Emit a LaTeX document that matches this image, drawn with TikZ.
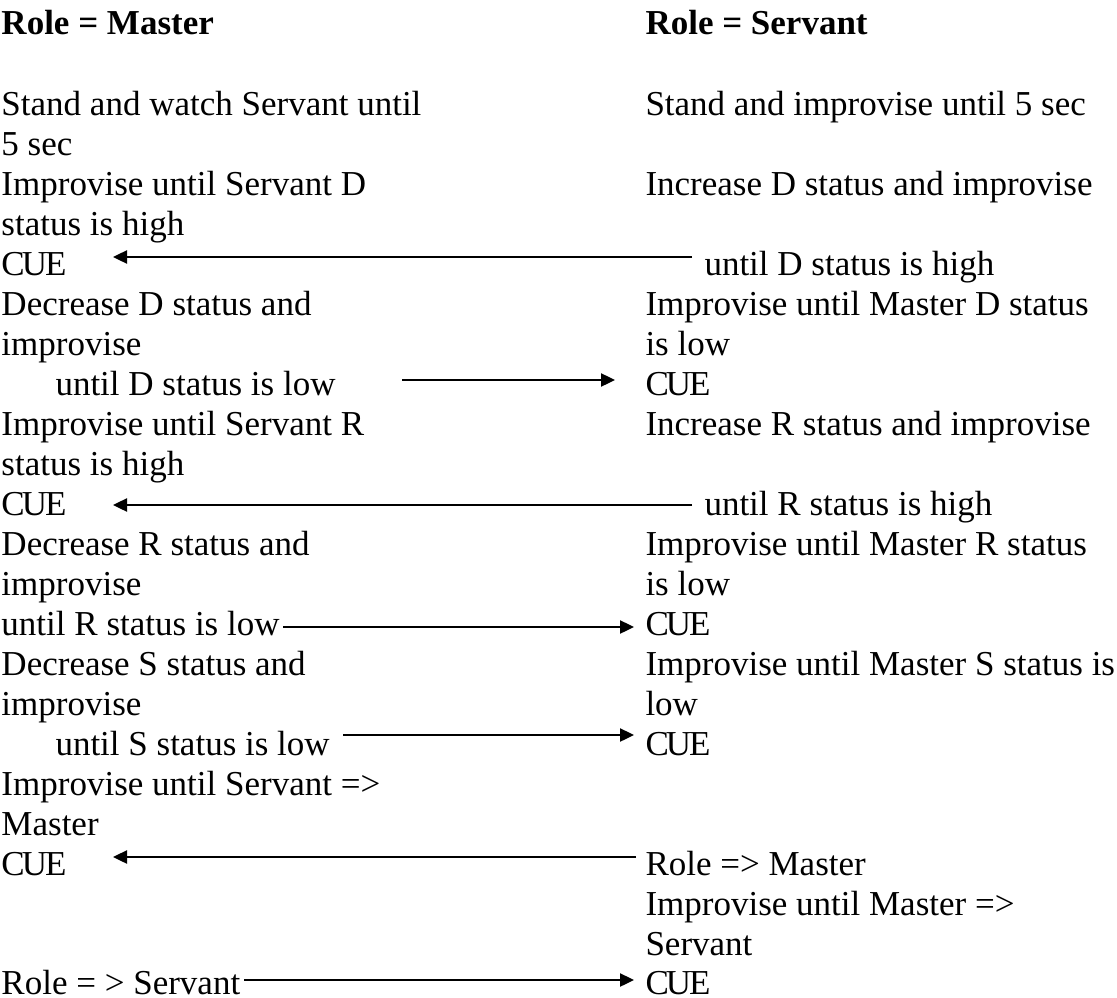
\documentclass[tikz,border=0pt]{standalone}
\usepackage{fontspec}
\setmainfont{Liberation Serif}
\usetikzlibrary{arrows.meta}
\newcommand{\cue}{C\kern-3pt U\kern-2pt E}
\tikzset{
  txt/.style={anchor=base west, inner sep=0pt, outer sep=0pt, font=\fontsize{35}{40}\selectfont, text=black},
  hdr/.style={txt, font=\fontsize{35}{40}\selectfont\bfseries},
  arr/.style={draw=black, line width=2.4pt, -{Triangle[length=14pt,width=13pt]}}
}
\begin{document}
\begin{tikzpicture}[x=1pt,y=-1pt]
\useasboundingbox (0,0) rectangle (1117,998);
% headings
\node[hdr] (hm) at (1.5,35) {Role = Master};
\node[hdr] (hs) at (645.5,35) {Role = Servant};
% left column
\node[txt] (l0) at (1.5,115) {Stand and watch Servant until};
\node[txt] (l1) at (1.5,155) {5 sec};
\node[txt] (l2) at (1.5,195) {Improvise until Servant D};
\node[txt] (l3) at (1.5,235) {status is high};
\node[txt] (l4) at (1.5,275) {\cue};
\node[txt] (l5) at (1.5,315) {Decrease D status and};
\node[txt] (l6) at (1.5,355) {improvise};
\node[txt] (l7) at (55.5,395) {until D status is low};
\node[txt] (l8) at (1.5,435) {Improvise until Servant R};
\node[txt] (l9) at (1.5,475) {status is high};
\node[txt] (l10) at (1.5,515) {\cue};
\node[txt] (l11) at (1.5,555) {Decrease R status and};
\node[txt] (l12) at (1.5,595) {improvise};
\node[txt] (l13) at (1.5,635) {until R status is low};
\node[txt] (l14) at (1.5,675) {Decrease S status and};
\node[txt] (l15) at (1.5,715) {improvise};
\node[txt] (l16) at (55.5,755) {until S status is low};
\node[txt] (l17) at (1.5,795) {Improvise until Servant =>};
\node[txt] (l18) at (1.5,835) {Master};
\node[txt] (l19) at (1.5,875) {\cue};
\node[txt] (l22) at (1.5,994) {Role = > Servant};
% right column
\node[txt] (r0) at (645.5,115) {Stand and improvise until 5 sec};
\node[txt] (r2) at (645.5,195) {Increase D status and improvise};
\node[txt] (r4) at (704.5,275) {until D status is high};
\node[txt] (r5) at (645.5,315) {Improvise until Master D status};
\node[txt] (r6) at (645.5,355) {is low};
\node[txt] (r7) at (645.5,395) {\cue};
\node[txt] (r8) at (645.5,435) {Increase R status and improvise};
\node[txt] (r10) at (704.5,515) {until R status is high};
\node[txt] (r11) at (645.5,555) {Improvise until Master R status};
\node[txt] (r12) at (645.5,595) {is low};
\node[txt] (r13) at (645.5,635) {\cue};
\node[txt] (r14) at (645.5,675) {Improvise until Master S status is};
\node[txt] (r15) at (645.5,715) {low};
\node[txt] (r16) at (645.5,755) {\cue};
\node[txt] (r19) at (645.5,875) {Role => Master};
\node[txt] (r20) at (645.5,915) {Improvise until Master =>};
\node[txt] (r21) at (645.5,955) {Servant};
\node[txt] (r22) at (645.5,994) {\cue};
% arrow end points
\coordinate (a1s) at (692,257);  \coordinate (a1e) at (113,257);
\coordinate (a2s) at (402,380);  \coordinate (a2e) at (615,380);
\coordinate (a3s) at (692,505);  \coordinate (a3e) at (113,505);
\coordinate (a4s) at (283,627);  \coordinate (a4e) at (634,627);
\coordinate (a5s) at (343,735);  \coordinate (a5e) at (634,735);
\coordinate (a6s) at (636,857);  \coordinate (a6e) at (113,857);
\coordinate (a7s) at (244,980);  \coordinate (a7e) at (634,980);
\draw[arr] (a1s) -- (a1e);
\draw[arr] (a2s) -- (a2e);
\draw[arr] (a3s) -- (a3e);
\draw[arr] (a4s) -- (a4e);
\draw[arr] (a5s) -- (a5e);
\draw[arr] (a6s) -- (a6e);
\draw[arr] (a7s) -- (a7e);
\end{tikzpicture}
\end{document}
